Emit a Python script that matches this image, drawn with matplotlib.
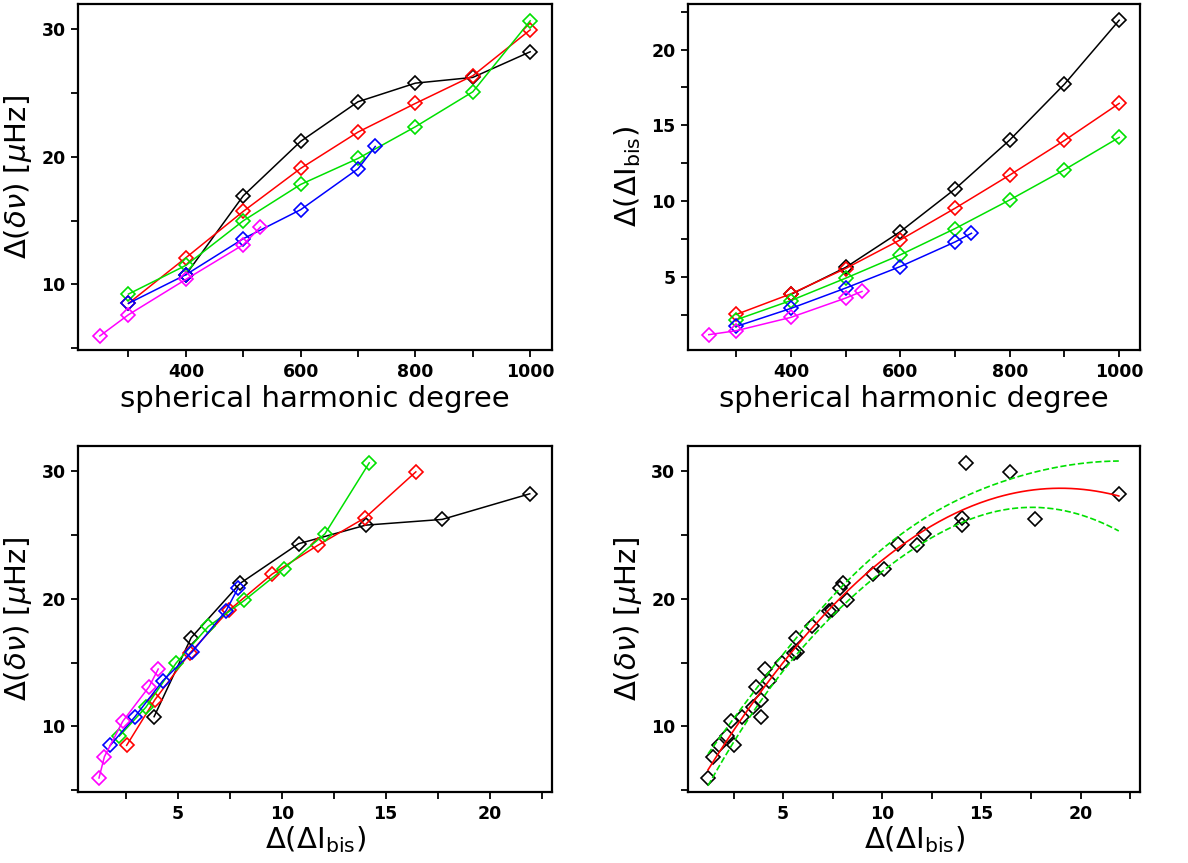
import numpy as np
import matplotlib
matplotlib.use("Agg")
import matplotlib.pyplot as plt
from matplotlib.ticker import MultipleLocator

plt.rcParams['mathtext.fontset'] = 'dejavusans'

# spherical harmonic degree for each series
deg_black = [400, 500, 600, 700, 800, 900, 1000]
deg_red = [300, 400, 500, 600, 700, 800, 900, 1000]
deg_green = [300, 400, 500, 600, 700, 800, 900, 1000]
deg_blue = [300, 400, 500, 600, 700, 730]
deg_magenta = [250, 300, 400, 500, 530]

# frequency shift Delta(delta nu) [muHz]
dnu_black = [10.76, 16.95, 21.22, 24.33, 25.79, 26.24, 28.25]
dnu_red = [8.51, 12.09, 15.73, 19.10, 21.95, 24.20, 26.37, 29.97]
dnu_green = [9.24, 11.49, 14.99, 17.84, 19.88, 22.37, 25.11, 30.68]
dnu_blue = [8.51, 10.76, 13.58, 15.86, 19.07, 20.82]
dnu_magenta = [5.95, 7.62, 10.39, 13.11, 14.50]

# bisector shift Delta(Delta I_bis)
dib_black = [3.86, 5.64, 8.00, 10.81, 14.04, 17.72, 21.93]
dib_red = [2.54, 3.90, 5.57, 7.46, 9.54, 11.73, 14.01, 16.45]
dib_green = [2.19, 3.46, 4.93, 6.47, 8.20, 10.09, 12.08, 14.21]
dib_blue = [1.75, 2.94, 4.28, 5.70, 7.32, 7.89]
dib_magenta = [1.21, 1.47, 2.35, 3.62, 4.06]

series = [
    ("black", deg_black, dnu_black, dib_black),
    ("red", deg_red, dnu_red, dib_red),
    ("#00e000", deg_green, dnu_green, dib_green),
    ("blue", deg_blue, dnu_blue, dib_blue),
    ("magenta", deg_magenta, dnu_magenta, dib_magenta),
]

DNU_LABEL = r'$\Delta(\delta\nu)$ [$\mu$Hz]'
DIB_LABEL = r'$\Delta(\Delta\mathrm{I}_{\mathrm{bis}})$'
LABEL_KW = dict(fontsize=21)


def style_axes(ax):
    for s in ax.spines.values():
        s.set_linewidth(1.6)
    ax.tick_params(which='both', direction='out', length=5, width=1.3,
                   top=False, right=False, labelsize=12.5, pad=4)
    # bold tick numbers, as in the original
    plt.setp(ax.get_xticklabels() + ax.get_yticklabels(), fontweight='bold')


def mark(ax, x, y, color, line=True):
    ax.plot(x, y, linestyle='-' if line else 'none', color=color, lw=1.1,
            marker='D', ms=7, mfc='none', mec=color, mew=1.2)


fig = plt.figure(figsize=(11.88, 8.63), dpi=100)
W, H = 1188.0, 863.0


def add_ax(l, r, t, b):
    return fig.add_axes([l / W, 1 - b / H, (r - l) / W, (b - t) / H])


ax_tl = add_ax(78, 552, 4, 350)
ax_tr = add_ax(688, 1140, 4, 350)
ax_bl = add_ax(78, 552, 446, 792)
ax_br = add_ax(688, 1140, 446, 792)

for c, d, n, b in series:
    mark(ax_tl, d, n, c)
    mark(ax_tr, d, b, c)
    mark(ax_bl, b, n, c)

# scatter of all points with quadratic fit and its band
x_all = np.concatenate([s[3] for s in series])
y_all = np.concatenate([s[2] for s in series])
mark(ax_br, x_all, y_all, 'black', line=False)
coef, cov = np.polyfit(x_all, y_all, 2, cov=True)
xf = np.linspace(x_all.min(), x_all.max(), 200)
A = np.vstack([xf ** 2, xf, np.ones_like(xf)]).T
yf = A @ coef
se = np.sqrt(np.einsum('ij,jk,ik->i', A, cov, A))
ax_br.plot(xf, yf, color='red', lw=1.2)
ax_br.plot(xf, yf + 3 * se, '--', color='#00e000', lw=1.2)
ax_br.plot(xf, yf - 3 * se, '--', color='#00e000', lw=1.2)

for ax in (ax_tl, ax_tr):
    ax.set_xlim(212, 1038)
    ax.xaxis.set_major_locator(MultipleLocator(200))
    ax.xaxis.set_minor_locator(MultipleLocator(100))
    ax.set_xlabel('spherical harmonic degree', labelpad=3, **LABEL_KW)

for ax in (ax_tl, ax_bl, ax_br):
    ax.set_ylim(4.85, 32)
    ax.yaxis.set_major_locator(MultipleLocator(10))
    ax.yaxis.set_minor_locator(MultipleLocator(5))
    ax.set_ylabel(DNU_LABEL, labelpad=5, **LABEL_KW)

ax_tr.set_ylim(0.2, 23)
ax_tr.yaxis.set_major_locator(MultipleLocator(5))
ax_tr.yaxis.set_minor_locator(MultipleLocator(2.5))
ax_tr.set_ylabel(DIB_LABEL, labelpad=6, **LABEL_KW)

for ax in (ax_bl, ax_br):
    ax.set_xlim(0.2, 23)
    ax.xaxis.set_major_locator(MultipleLocator(5))
    ax.xaxis.set_minor_locator(MultipleLocator(2.5))
    ax.set_xlabel(DIB_LABEL, labelpad=1, **LABEL_KW)

for ax in (ax_tl, ax_tr, ax_bl, ax_br):
    style_axes(ax)

fig.savefig('out.png', dpi=100)
